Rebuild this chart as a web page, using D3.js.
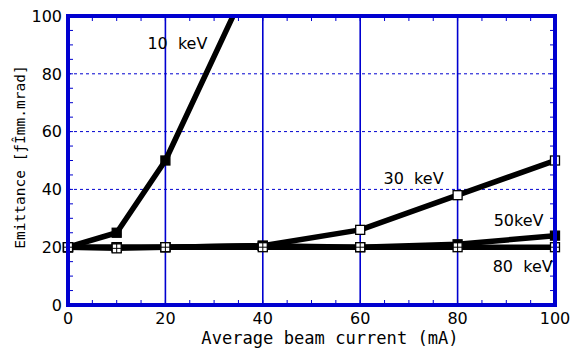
<!DOCTYPE html>
<html><head><meta charset="utf-8">
<script src="https://cdn.jsdelivr.net/npm/d3@7"></script>
<style>body{margin:0;background:#fff}svg{display:block}</style>
</head><body>
<svg id="c" width="572" height="351"></svg>
<script>
const currents = [0, 10, 20, 40, 60, 80, 100];
const kev10 = [20, 25, 50, 122];
const kev10x = [0, 10, 20, 40];
const kev30 = [20, 20, 20, 20.5, 26, 38, 50];
const kev50 = [20, 20, 20, 20.5, 20, 21, 24];
const kev80 = [20, 19.6, 20, 20, 20, 20, 20];
const xTicks = [0, 20, 40, 60, 80, 100];
const yTicks = [0, 20, 40, 60, 80, 100];
const labels = ["10  keV", "30  keV", "50keV", "80  keV"];

const svg = d3.select("#c");
const blue = "#0000d0";
const x = d3.scaleLinear().domain([0, 100]).range([68, 555]);
const y = d3.scaleLinear().domain([0, 100]).range([305, 16]);

svg.append("defs").append("clipPath").attr("id", "clip")
  .append("rect").attr("x", x(0)).attr("y", y(100)).attr("width", x(100) - x(0)).attr("height", y(0) - y(100));

// grid
svg.selectAll(".hg").data([20, 40, 60, 80]).enter().append("line")
  .attr("x1", x(0)).attr("x2", x(100)).attr("y1", d => y(d)).attr("y2", d => y(d))
  .attr("stroke", blue).attr("stroke-width", 1).attr("stroke-dasharray", "3,3");
svg.selectAll(".vg").data([20, 40, 60, 80]).enter().append("line")
  .attr("y1", y(0)).attr("y2", y(100)).attr("x1", d => x(d)).attr("x2", d => x(d))
  .attr("stroke", blue).attr("stroke-width", 1.6);

// minor ticks
const minor = d3.range(5, 100, 5);
const tk = svg.append("g").attr("stroke", blue).attr("stroke-width", 1);
minor.forEach(v => {
  tk.append("line").attr("x1", x(v)).attr("x2", x(v)).attr("y1", y(0)).attr("y2", y(0) - 5);
  tk.append("line").attr("x1", x(v)).attr("x2", x(v)).attr("y1", y(100)).attr("y2", y(100) + 5);
  tk.append("line").attr("y1", y(v)).attr("y2", y(v)).attr("x1", x(0)).attr("x2", x(0) + 5);
  tk.append("line").attr("y1", y(v)).attr("y2", y(v)).attr("x1", x(100)).attr("x2", x(100) - 5);
});

// labels in plot (drawn before lines)
const lab = svg.append("g").attr("font-family", "DejaVu Sans").attr("font-size", 16).attr("fill", "#000");
lab.append("text").attr("x", x(16.3)).attr("y", y(88.5)).text(labels[0]).style("white-space", "pre");
lab.append("text").attr("x", x(64.8)).attr("y", y(42)).text(labels[1]).style("white-space", "pre");
lab.append("text").attr("x", x(87.4)).attr("y", y(27.3)).text(labels[2]);
lab.append("text").attr("x", x(87.2)).attr("y", y(11.5)).text(labels[3]).style("white-space", "pre");

const line = d3.line().x(d => x(d[0])).y(d => y(d[1]));
const g = svg.append("g").attr("clip-path", "url(#clip)");
function series(xs, ys) { return xs.map((v, i) => [v, ys[i]]); }
const s10 = series(kev10x, kev10), s30 = series(currents, kev30), s50 = series(currents, kev50), s80 = series(currents, kev80);
[s10, s30, s50, s80].forEach(s => {
  g.append("path").datum(s).attr("d", line).attr("fill", "none").attr("stroke", "#000").attr("stroke-width", 5.5).attr("stroke-linejoin", "round");
});

const ms = 9;
function markers(s, fill, cross) {
  const mg = svg.append("g");
  s.filter(d => d[1] <= 100).forEach(d => {
    const cx = x(d[0]), cy = y(d[1]);
    mg.append("rect").attr("x", cx - ms / 2).attr("y", cy - ms / 2).attr("width", ms).attr("height", ms)
      .attr("fill", fill).attr("stroke", "#000").attr("stroke-width", 1.3);
    if (cross) {
      mg.append("line").attr("x1", cx - ms / 2).attr("x2", cx + ms / 2).attr("y1", cy).attr("y2", cy).attr("stroke", "#000").attr("stroke-width", 1);
      mg.append("line").attr("y1", cy - ms / 2).attr("y2", cy + ms / 2).attr("x1", cx).attr("x2", cx).attr("stroke", "#000").attr("stroke-width", 1);
    }
  });
}
markers(s10, "#000", false);
markers(s30, "#fff", false);
markers(s50, "#000", false);
markers(s80, "#fff", true);

// frame
svg.append("rect").attr("x", x(0)).attr("y", y(100)).attr("width", x(100) - x(0)).attr("height", y(0) - y(100))
  .attr("fill", "none").attr("stroke", blue).attr("stroke-width", 4);

// tick labels
const tl = svg.append("g").attr("font-family", "DejaVu Sans").attr("font-size", 16).attr("fill", "#000");
xTicks.forEach(v => tl.append("text").attr("x", x(v)).attr("y", 324).attr("text-anchor", "middle").text(v));
yTicks.forEach(v => tl.append("text").attr("x", 62).attr("y", y(v)).attr("dy", "0.36em").attr("text-anchor", "end").text(v));

// axis titles
svg.append("text").attr("x", 330).attr("y", 344).attr("text-anchor", "middle")
  .attr("font-family", "DejaVu Sans Mono").attr("font-size", 17.1).text("Average beam current (mA)");
svg.append("text").attr("transform", "translate(25,157) rotate(-90)").attr("text-anchor", "middle")
  .attr("font-family", "DejaVu Sans Mono").attr("font-size", 14.5).text("Emittance [ƒÎmm.mrad]");
</script>
</body></html>
